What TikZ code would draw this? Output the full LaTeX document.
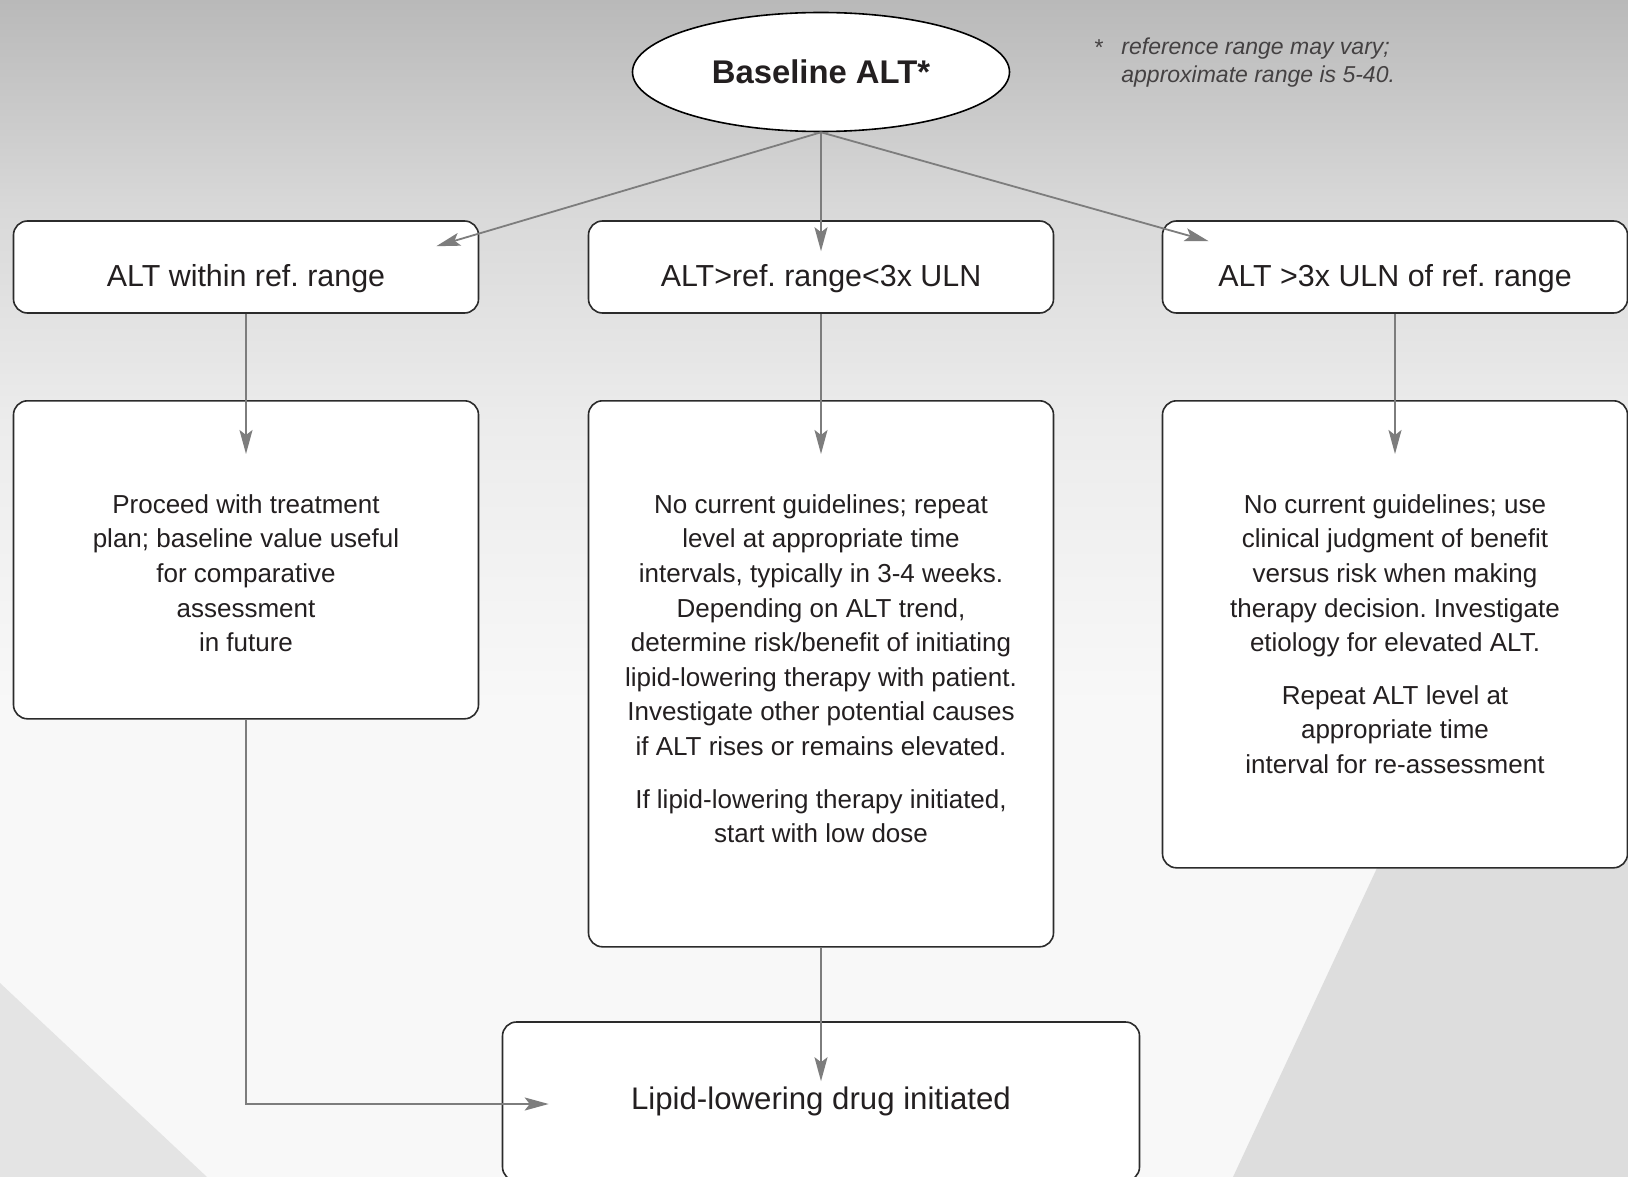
\documentclass[tikz,border=0pt]{standalone}
\usepackage{fontspec}
\setmainfont{Liberation Sans}
\usetikzlibrary{shapes.geometric, positioning, arrows.meta, calc}
\frenchspacing

\definecolor{ink}{HTML}{231F20}
\definecolor{edge}{HTML}{2B2B2B}
\definecolor{wire}{HTML}{7D7D7D}
\definecolor{bgtop}{HTML}{B9B9B9}
\definecolor{bglow}{HTML}{D9D9D9}
\definecolor{bgmid}{HTML}{ECECEC}
\definecolor{bgbot}{HTML}{F8F8F8}
\definecolor{swoosh}{HTML}{DDDDDD}

\pgfdeclareverticalshading{backdrop}{100bp}{color(0bp)=(bgbot); color(45bp)=(bgbot); color(57bp)=(bgmid); color(66bp)=(bglow); color(75bp)=(bgtop); color(100bp)=(bgtop)}

\tikzset{
  start/.style={ellipse, draw=black, fill=white, line width=0.8pt, minimum width=188.5pt, minimum height=59.5pt, inner sep=0pt, text=ink, font=\bfseries\fontsize{16.4}{19}\selectfont},
  roundbox/.style={rectangle, rounded corners=7pt, draw=edge, fill=white, line width=0.8pt, text=ink},
  level/.style={roundbox, minimum width=232.5pt, minimum height=46pt, text height=22pt, text depth=3pt, font=\fontsize{15.2}{18}\selectfont},
  advice/.style={roundbox, minimum width=232.5pt, anchor=north, inner sep=0pt},
  final/.style={roundbox, minimum width=318.5pt, minimum height=79.5pt, font=\fontsize{15.6}{18}\selectfont},
  note/.style={align=center, anchor=north, inner sep=0pt, text=ink, font=\fontsize{13}{17.3}\selectfont},
  conn/.style={draw=wire, line width=0.9pt, -{Stealth[length=12pt, width=6.5pt, inset=2.5pt]}},
  footnote/.style={inner sep=0pt, text=ink!85, font=\itshape\fontsize{11.5}{14.2}\selectfont, align=left}
}

\begin{document}
\begin{tikzpicture}[x=0.5pt, y=-0.5pt]
    % Background
    \useasboundingbox (0,0) rectangle (1628,1177);
    \shade[shading=backdrop] (0,0) rectangle (1628,1177);
    \fill[swoosh] (1233,1177) -- (1377,868) -- (1440,760) -- (1628,760) -- (1628,1177) -- cycle;
    \fill[swoosh!80] (0,983) -- (207,1177) -- (0,1177) -- cycle;

    % Nodes
    \node[start] (base) at (821,72) {Baseline ALT*};
    \node[footnote, anchor=north west] (fn) at (1121,37) {reference range may vary;\\approximate range is 5-40.};
    \node[footnote, font=\fontsize{11.5}{14}\selectfont, anchor=north east] (star) at ([xshift=-8.5pt, yshift=-1pt]fn.north west) {*};

    \node[level] (within) at (246,267) {ALT within ref. range};
    \node[level] (mid) at (821,267) {ALT>ref. range<3x ULN};
    \node[level] (high) at (1395,267) {ALT >3x ULN of ref. range};

    \node[advice, minimum height=159pt] (planbox) at (246,400) {};
    \node[advice, minimum height=273pt] (repeatbox) at (821,400) {};
    \node[advice, minimum height=233.5pt] (judgebox) at (1395,400) {};

    \node[note] (plan) at ($(planbox.north)+(0,94)$) {Proceed with treatment\\plan; baseline value useful\\for comparative\\assessment\\in future};
    \node[note] (repeat) at ($(repeatbox.north)+(0,94)$) {No current guidelines; repeat\\level at appropriate time\\intervals, typically in 3-4 weeks.\\Depending on ALT trend,\\determine risk/benefit of initiating\\lipid-lowering therapy with patient.\\Investigate other potential causes\\if ALT rises or remains elevated.\\[9pt]If lipid-lowering therapy initiated,\\start with low dose};
    \node[note] (judge) at ($(judgebox.north)+(0,94)$) {No current guidelines; use\\clinical judgment of benefit\\versus risk when making\\therapy decision. Investigate\\etiology for elevated ALT.\\[9pt]Repeat ALT level at\\appropriate time\\interval for re-assessment};

    \node[final] (drug) at (821,1101.5) {Lipid-lowering drug initiated};

    % Arrow ends
    \coordinate (hitL) at ($(within.north east)+(-43,26)$);
    \coordinate (hitM) at ($(mid.north)+(0,31)$);
    \coordinate (hitR) at ($(high.north west)+(47,21)$);
    \coordinate (hitP) at ($(planbox.north)+(0,54)$);
    \coordinate (hitQ) at ($(repeatbox.north)+(0,54)$);
    \coordinate (hitJ) at ($(judgebox.north)+(0,54)$);
    \coordinate (hitC) at ($(drug.north)+(0,60)$);
    \coordinate (hitD) at ($(drug.west)+(47,2.5)$);

    % Transitions
    \draw[conn] (base.south) -- (hitL);
    \draw[conn] (base.south) -- (hitM);
    \draw[conn] (base.south) -- (hitR);
    \draw[conn] (within.south) -- (hitP);
    \draw[conn] (mid.south) -- (hitQ);
    \draw[conn] (high.south) -- (hitJ);
    \draw[conn] (repeatbox.south) -- (hitC);
    \draw[conn] (planbox.south) |- (hitD);
\end{tikzpicture}
\end{document}
